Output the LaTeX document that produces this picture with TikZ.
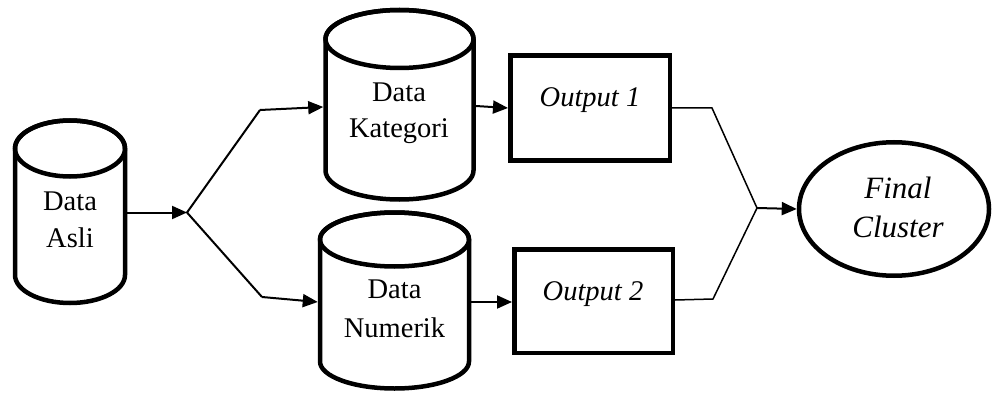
\documentclass[tikz,border=0pt]{standalone}
\usepackage{fontspec}
\setmainfont{Liberation Serif}
\usetikzlibrary{arrows.meta,shapes.geometric,calc}

\tikzset{
  shapeline/.style={line width=4.5pt},
  conn/.style={line width=2pt},
  thinconn/.style={line width=1.5pt},
  arr/.style={-{Triangle[length=15pt,width=13pt]}},
  lbl/.style={inner sep=0pt, anchor=base, font=\fontsize{28.5}{37}\selectfont},
  ilbl/.style={lbl, font=\fontsize{28.5}{37}\selectfont\itshape},
  outbox/.style={draw, shapeline, inner sep=0pt},
  body/.style={inner sep=0pt, outer xsep=2.25pt}
}

% database cylinder: name, centre x, top y, bottom y, half width, end radius
\newcommand{\dbcyl}[6]{%
  \path[draw, shapeline, fill=white, line join=round]
    (#2-#5, -#3-#6) -- (#2-#5, -#4+#6)
    arc[start angle=180, end angle=360, x radius=#5, y radius=#6]
    -- (#2+#5, -#3-#6)
    arc[start angle=0, end angle=180, x radius=#5, y radius=#6];
  \draw[shapeline] (#2, -#3-#6) ellipse[x radius=#5, y radius=#6];
  \node[body, minimum width={(2*#5)*1pt}, minimum height={(#4-#3)*1pt}]
    (#1) at (#2, {-(#3+#4)/2}) {};
}

\begin{document}
\begin{tikzpicture}[x=1pt, y=1pt]
  \useasboundingbox (0,0) rectangle (993,-393);

  % data stores
  \dbcyl{asli}{70}{120.5}{303}{55}{28}
  \dbcyl{kat}{399.5}{10}{199.5}{74}{29}
  \dbcyl{num}{394.5}{212.5}{388.5}{74.5}{27}

  \node[lbl] at (70,-210) {Data};
  \node[lbl] at (70,-247) {Asli};
  \node[lbl] at (399,-102) {Data};
  \node[lbl] at (399,-138) {Kategori};
  \node[lbl] at (394.5,-298) {Data};
  \node[lbl] at (394.5,-337) {Numerik};

  % result boxes
  \node[outbox, minimum width=159.5pt, minimum height=105pt] (out1) at (590,-108) {};
  \node[outbox, minimum width=158.5pt, minimum height=103.5pt] (out2) at (593.5,-301) {};
  \node[ilbl] at (590,-107) {Output 1};
  \node[ilbl] at (593,-300) {Output 2};

  % final cluster
  \node[draw, shapeline, ellipse, inner sep=0pt, minimum width=190pt, minimum height=133.5pt] (fin) at (894,-209) {};
  \node[ilbl, font=\fontsize{31}{39}\selectfont\itshape] at (898,-198) {Final};
  \node[ilbl, font=\fontsize{31}{39}\selectfont\itshape] at (898,-237) {Cluster};

  % branching connectors
  \coordinate (j1) at (187,-212.5);
  \coordinate (k1) at (260,-110);
  \coordinate (k2) at (262,-297);
  \coordinate (m1) at (712,-108);
  \coordinate (m2) at (713,-299);
  \coordinate (j2) at (757,-208);

  \draw[conn, arr] (asli.east |- j1) -- (j1);
  \draw[conn] (k1) -- (j1) -- (k2);
  \draw[conn, arr] (k1) -- (kat.west |- 0,-107);
  \draw[conn, arr] (k2) -- (num.west |- 0,-302);
  \draw[conn, arr] (kat.east |- 0,-106) -- (out1.west);
  \draw[conn, arr] (num.east |- 0,-302) -- (out2.west |- 0,-302);

  \draw[thinconn] (out1.east) -- (m1) -- (j2);
  \draw[thinconn] (out2.east |- 0,-300) -- (m2) -- (j2);
  \draw[conn, arr] (j2) -- (fin.west);
\end{tikzpicture}
\end{document}
